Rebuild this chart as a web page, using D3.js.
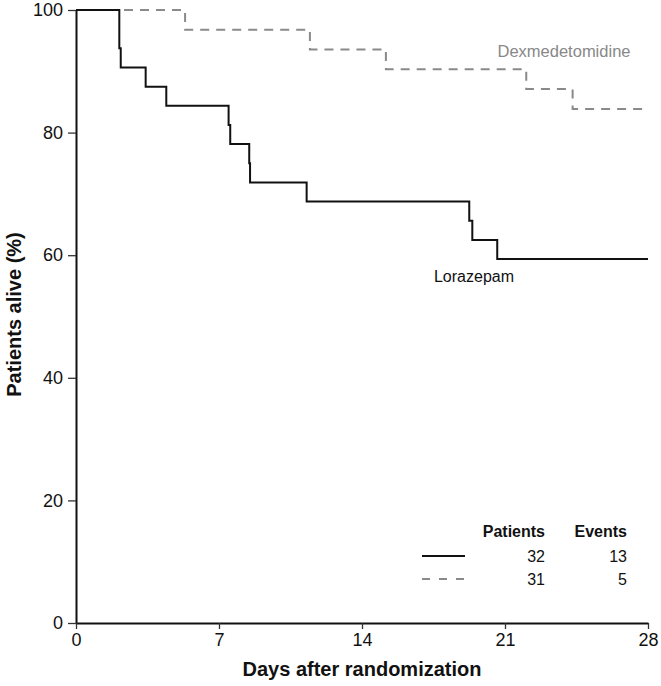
<!DOCTYPE html>
<html>
<head>
<meta charset="utf-8">
<script src="https://cdn.jsdelivr.net/npm/d3@7"></script>
<style>
  html, body { margin: 0; padding: 0; background: #fff; }
  svg { display: block; font-family: "Liberation Sans", Arial, Helvetica, sans-serif; }
</style>
</head>
<body>
<svg id="chart" width="661" height="686"></svg>
<script>
// ---- Data ----
const lorazepamDays = [0, 2.12, 2.19, 3.41, 4.42, 7.47, 7.55, 8.48, 8.52, 11.29, 19.25, 19.4, 20.62, 28];
const lorazepamAlive = [100, 93.75, 90.625, 87.5, 84.375, 81.25, 78.125, 75, 71.875, 68.75, 65.625, 62.5, 59.375, 59.375];
const dexDays = [0, 5.34, 11.45, 15.17, 22.04, 24.31, 28];
const dexAlive = [100, 96.77, 93.55, 90.32, 87.10, 83.87, 83.87];
const xTicks = [0, 7, 14, 21, 28];
const yTicks = [0, 20, 40, 60, 80, 100];
const legendHeaders = ["Patients", "Events"];
const legendPatients = [32, 31];
const legendEvents = [13, 5];
const seriesNames = ["Lorazepam", "Dexmedetomidine"];

// ---- Layout ----
const svg = d3.select("#chart");
const x = d3.scaleLinear().domain([0, 28]).range([76, 648]);
const y = d3.scaleLinear().domain([0, 100]).range([623, 10]);

// Axes
const yAxis = svg.append("g").attr("transform", `translate(${x(0)},0)`)
  .call(d3.axisLeft(y).tickValues(yTicks).tickSize(8).tickSizeOuter(0).tickPadding(5));
const xAxis = svg.append("g").attr("transform", `translate(0,${y(0)})`)
  .call(d3.axisBottom(x).tickValues(xTicks).tickSize(6).tickSizeOuter(0).tickPadding(3));
[xAxis, yAxis].forEach(g => {
  g.select(".domain").attr("stroke", "#111").attr("stroke-width", 2);
  g.selectAll(".tick line").attr("stroke", "#333").attr("stroke-width", 1.3);
  g.selectAll(".tick text").attr("fill", "#111").style("font-size", "18px");
});
xAxis.selectAll(".tick text").attr("dy", "0.8em");

// Axis titles
svg.append("text").attr("x", x(14)).attr("y", 676).attr("text-anchor", "middle")
  .style("font-size", "20px").style("font-weight", "bold").attr("fill", "#111")
  .text("Days after randomization");
svg.append("text").attr("transform", `translate(21,${y(50) - 2}) rotate(-90)`).attr("text-anchor", "middle")
  .style("font-size", "20px").style("font-weight", "bold").attr("fill", "#111")
  .text("Patients alive (%)");

// Curves
const line = d3.line().curve(d3.curveStepAfter).x(d => x(d[0])).y(d => y(d[1]));
const lorData = lorazepamDays.map((d, i) => [d, lorazepamAlive[i]]);
const dexData = dexDays.map((d, i) => [d, dexAlive[i]]);

svg.append("path").datum(dexData).attr("d", line)
  .attr("fill", "none").attr("stroke", "#8a8a8a").attr("stroke-width", 2)
  .attr("stroke-dasharray", "9,7");
svg.append("path").datum(lorData).attr("d", line)
  .attr("fill", "none").attr("stroke", "#111").attr("stroke-width", 2);

// Curve labels
svg.append("text").attr("x", 474).attr("y", 282).attr("text-anchor", "middle")
  .style("font-size", "16px").attr("fill", "#111").text(seriesNames[0]);
svg.append("text").attr("x", 564).attr("y", 57).attr("text-anchor", "middle")
  .style("font-size", "16.5px").attr("fill", "#888").text(seriesNames[1]);

// Legend
const leg = svg.append("g");
const colRight = [545, 627];
legendHeaders.forEach((h, i) => {
  leg.append("text").attr("x", colRight[i]).attr("y", 537).attr("text-anchor", "end")
    .style("font-size", "16px").style("font-weight", "bold").attr("fill", "#111").text(h);
});
const rowY = [556, 579];
const rowStyles = [
  {stroke: "#111", dash: null},
  {stroke: "#8a8a8a", dash: "8,9"}
];
rowY.forEach((ry, i) => {
  leg.append("line").attr("x1", 422).attr("x2", 465).attr("y1", ry).attr("y2", ry)
    .attr("stroke", rowStyles[i].stroke).attr("stroke-width", 2)
    .attr("stroke-dasharray", rowStyles[i].dash);
  leg.append("text").attr("x", colRight[0]).attr("y", ry + 6).attr("text-anchor", "end")
    .style("font-size", "16px").attr("fill", "#111").text(legendPatients[i]);
  leg.append("text").attr("x", colRight[1]).attr("y", ry + 6).attr("text-anchor", "end")
    .style("font-size", "16px").attr("fill", "#111").text(legendEvents[i]);
});
</script>
</body>
</html>
